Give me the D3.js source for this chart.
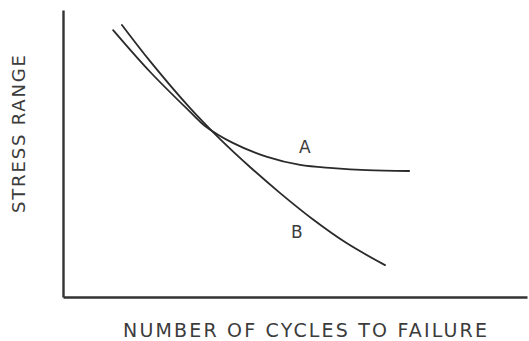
<!DOCTYPE html>
<html>
<head>
<meta charset="utf-8">
<script src="https://cdn.jsdelivr.net/npm/d3@7"></script>
<style>
  html, body { margin: 0; padding: 0; background: #fff; }
  svg { display: block; }
  .lbl { font-family: "DejaVu Sans", sans-serif; fill: #3c3c3c; }
</style>
</head>
<body>
<script>
// S-N curves: relative log-cycles (x) vs relative stress range (y)
const curveA_x = [1.08, 1.88, 2.74, 3.06, 3.66, 4.40, 5.11, 5.82, 6.55, 7.46];
const curveA_y = [9.30, 7.84, 6.45, 5.96, 5.37, 4.88, 4.60, 4.49, 4.42, 4.39];
const curveB_x = [1.27, 1.88, 2.74, 3.38, 4.03, 4.68, 5.39, 6.12, 6.94];
const curveB_y = [9.48, 8.21, 6.58, 5.51, 4.53, 3.62, 2.70, 1.87, 1.11];
const curveNames = ["A", "B"];
const labelPos = [[5.21, 5.02], [5.04, 2.06]];
const xTitle = "NUMBER OF CYCLES TO FAILURE";
const yTitle = "STRESS RANGE";

const W = 529, H = 341;
const plotLeft = 63, plotRight = 527, plotTop = 10, plotBottom = 297;

const x = d3.scaleLinear().domain([0, 10]).range([plotLeft, plotRight]);
const y = d3.scaleLinear().domain([0, 10]).range([plotBottom, plotTop]);

const svg = d3.select("body").append("svg").attr("width", W).attr("height", H);

// axes: plain lines with no ticks
const axisColor = "#333";
svg.append("g").attr("transform", `translate(0,${plotBottom})`)
  .call(d3.axisBottom(x).tickValues([]).tickSizeOuter(0))
  .call(g => g.select(".domain").attr("stroke", axisColor).attr("stroke-width", 2.4));
svg.append("g").attr("transform", `translate(${plotLeft},0)`)
  .call(d3.axisLeft(y).tickValues([]).tickSizeOuter(0))
  .call(g => g.select(".domain").attr("stroke", axisColor).attr("stroke-width", 2.4));

const line = d3.line()
  .x(d => x(d[0])).y(d => y(d[1]))
  .curve(d3.curveCatmullRom.alpha(0.5));

const series = [
  d3.zip(curveA_x, curveA_y),
  d3.zip(curveB_x, curveB_y)
];

svg.selectAll("path.curve").data(series).enter().append("path")
  .attr("class", "curve")
  .attr("d", line)
  .attr("fill", "none")
  .attr("stroke", "#2a2a2a")
  .attr("stroke-width", 1.8)
  .attr("stroke-linecap", "round");

svg.selectAll("text.name").data(curveNames).enter().append("text")
  .attr("class", "lbl name")
  .attr("x", (d, i) => x(labelPos[i][0]))
  .attr("y", (d, i) => y(labelPos[i][1]))
  .attr("text-anchor", "middle")
  .attr("font-size", 17)
  .text(d => d);

svg.append("text")
  .attr("class", "lbl")
  .attr("x", 123).attr("y", 337)
  .attr("font-size", 19)
  .attr("textLength", 364)
  .attr("lengthAdjust", "spacing")
  .text(xTitle);

svg.append("text")
  .attr("class", "lbl")
  .attr("transform", "translate(25,213) rotate(-90)")
  .attr("font-size", 18)
  .attr("textLength", 158)
  .attr("lengthAdjust", "spacing")
  .text(yTitle);
</script>
</body>
</html>
